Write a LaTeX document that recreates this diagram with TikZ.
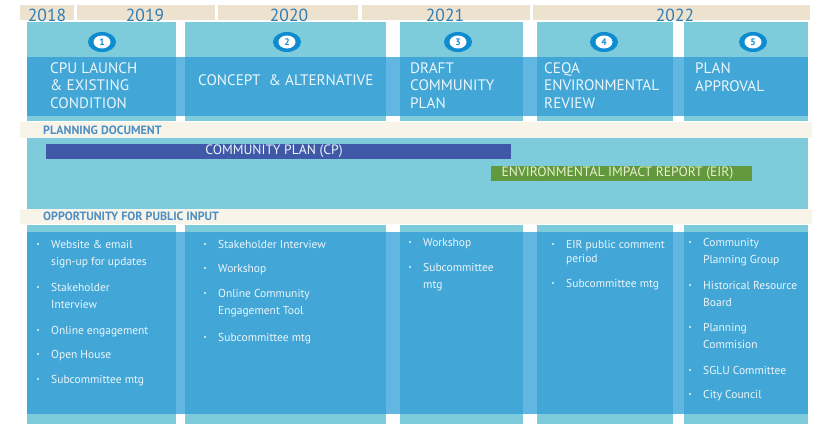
\documentclass[tikz,border=0pt]{standalone}
\usepackage{fontspec}
\setmainfont{PT Sans}
\usetikzlibrary{positioning}
\usepackage{xcolor}
\definecolor{lightteal}{RGB}{125,203,219}
\definecolor{colblue}{RGB}{66,167,215}
\definecolor{bandblue}{RGB}{98,182,226}
\definecolor{creamband}{RGB}{248,244,234}
\definecolor{tanbar}{RGB}{237,226,206}
\definecolor{yeartext}{RGB}{47,125,180}
\definecolor{labeltext}{RGB}{77,143,194}
\definecolor{cpblue}{RGB}{64,88,168}
\definecolor{eirgreen}{RGB}{97,153,60}
\definecolor{eirtext}{RGB}{232,240,205}
\definecolor{circblue}{RGB}{14,140,208}
\definecolor{paletext}{RGB}{236,246,251}

\begin{document}
\begin{tikzpicture}[x=1pt, y=-1pt,
    yearlabel/.style={anchor=base, inner sep=0pt, text=yeartext, font=\fontsize{17.5}{18}\selectfont},
    numdot/.style={inner sep=0pt, text=circblue, font=\fontsize{9.5}{9.5}\selectfont\bfseries},
    heading/.style={anchor=west, align=left, inner sep=0pt, text=paletext, font=\fontsize{15.2}{17.5}\selectfont},
    seclabel/.style={anchor=west, inner sep=0pt, text=labeltext, font=\fontsize{12}{12}\selectfont\bfseries},
    barlabel/.style={inner sep=0pt, font=\fontsize{13.6}{14}\selectfont},
    itemtext/.style={anchor=north west, align=left, inner sep=0pt, text=paletext, font=\fontsize{11.5}{17.5}\selectfont},
    bulletdot/.style={fill=paletext}
]
    \useasboundingbox (0,0) rectangle (816,447);

    % Year bar
    \foreach \a/\b in {20/74, 77/215, 218/358, 362/530, 533/810} {
        \fill[tanbar] (\a,5) rectangle (\b,20);
    }
    \foreach \x/\yr in {47/2018, 145/2019, 289/2020, 445/2021, 675/2022} {
        \node[yearlabel] (y\yr) at (\x,21) {\yr};
    }

    % Bands behind the columns
    \fill[bandblue] (27,57) rectangle (808,116);
    \fill[bandblue] (27,232) rectangle (808,414);

    % Columns (phase headers and public input)
    \foreach \a/\b in {27/176, 185/386, 400/523, 537/673, 684/808} {
        \fill[lightteal] (\a,22) rectangle (\b,121);
        \fill[colblue] (\a,57) rectangle (\b,116);
        \fill[lightteal] (\a,225) rectangle (\b,424);
        \fill[colblue] (\a,232) rectangle (\b,414);
    }

    % Step numbers
    \foreach \x [count=\i] in {102,287,458,604,753} {
        \fill[circblue] (\x,42) ellipse [x radius=14, y radius=10];
        \fill[white] (\x,42) ellipse [x radius=8.5, y radius=6.5];
        \node[numdot] (n\i) at (\x,42) {\i};
    }

    % Phase titles
    \node[heading] (h1) at (50,85.5) {CPU LAUNCH\\\& EXISTING\\CONDITION};
    \node[heading] (h2) at (198,80) {CONCEPT \ \& ALTERNATIVE};
    \node[heading] (h3) at (410,85.5) {DRAFT\\COMMUNITY\\PLAN};
    \node[heading] (h4) at (544,85.5) {CEQA\\ENVIRONMENTAL\\REVIEW};
    \node[heading] (h5) at (695,77) {PLAN\\APPROVAL};

    % Planning document
    \fill[creamband] (20,122) rectangle (812,138);
    \node[seclabel] (pd) at (43,130) {PLANNING DOCUMENT};
    \fill[lightteal] (27,138) rectangle (808,209);
    \fill[cpblue] (46,144) rectangle (511,159);
    \node[barlabel, text=paletext] (cp) at (274,151.5) {COMMUNITY PLAN (CP)};
    \fill[eirgreen] (491,166) rectangle (752,181);
    \node[barlabel, text=eirtext] (eir) at (617.5,173.5) {ENVIRONMENTAL IMPACT REPORT (EIR)};

    % Opportunity for public input
    \fill[creamband] (20,209) rectangle (812,224);
    \node[seclabel] (opi) at (43,216.5) {OPPORTUNITY FOR PUBLIC INPUT};

    % Input items, one loop per column
    \foreach \y/\t [count=\i] in {236/{Website \& email\\sign-up for updates}, 279/{Stakeholder\\Interview}, 322/{Online engagement}, 346/{Open House}, 371/{Subcommittee mtg}} {
        \node[itemtext] (a\i) at (51,\y) {\strut\t};
        \fill[bulletdot] ([xshift=-13pt,yshift=-8pt]a\i.north west) circle (1.2);
    }
    \foreach \y/\t [count=\i] in {236/{Stakeholder Interview}, 260/{Workshop}, 285/{Online Community\\Engagement Tool}, 329/{Subcommittee mtg}} {
        \node[itemtext] (b\i) at (218,\y) {\strut\t};
        \fill[bulletdot] ([xshift=-13pt,yshift=-8pt]b\i.north west) circle (1.2);
    }
    \foreach \y/\t [count=\i] in {234/{Workshop}, 259/{Subcommittee\\mtg}} {
        \node[itemtext] (c\i) at (423,\y) {\strut\t};
        \fill[bulletdot] ([xshift=-13pt,yshift=-8pt]c\i.north west) circle (1.2);
    }
    \foreach \y/\t [count=\i] in {236/{EIR public comment\\[-3pt]period}, 275/{Subcommittee mtg}} {
        \node[itemtext] (d\i) at (566,\y) {\strut\t};
        \fill[bulletdot] ([xshift=-13pt,yshift=-8pt]d\i.north west) circle (1.2);
    }
    \foreach \y/\t [count=\i] in {234/{Community\\Planning Group}, 277/{Historical Resource\\Board}, 319/{Planning\\Commision}, 362/{SGLU Committee}, 386/{City Council}} {
        \node[itemtext] (e\i) at (703,\y) {\strut\t};
        \fill[bulletdot] ([xshift=-13pt,yshift=-8pt]e\i.north west) circle (1.2);
    }
\end{tikzpicture}
\end{document}
